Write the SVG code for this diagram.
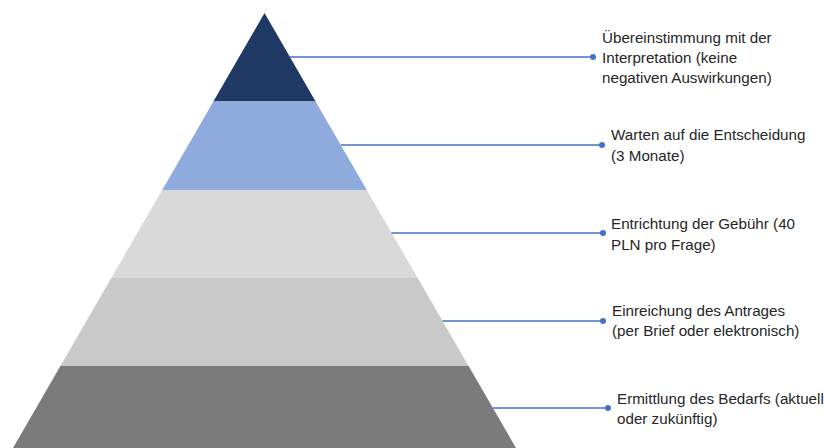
<svg xmlns="http://www.w3.org/2000/svg" width="824" height="448" viewBox="0 0 824 448">
<style>
.lbl{font-family:"Liberation Sans",Arial,sans-serif;font-size:15.2px;fill:#262626}
.con{stroke:#4472C4;stroke-width:1.3;fill:none}
.dot{fill:#4472C4}
</style>
<rect width="824" height="448" fill="#ffffff"/>
<g id="layer1"><polygon points="264.5,13 315.9,102 213.1,102" fill="#1F3864"/></g>
<g id="layer2"><polygon points="213.7,101 315.3,101 366.8,190 162.2,190" fill="#8FAADC"/></g>
<g id="layer3"><polygon points="162.2,190 366.8,190 417.7,278 111.3,278" fill="#D9D9D9"/></g>
<g id="layer4"><polygon points="111.3,278 417.7,278 468.6,366 60.4,366" fill="#C9C9C9"/></g>
<g id="layer5"><polygon points="60.4,366 468.6,366 516,448 13,448" fill="#7B7B7B"/></g>
<g id="connectors">
<line class="con" x1="290" y1="57" x2="593" y2="57"/><circle class="dot" cx="593" cy="57" r="3"/>
<line class="con" x1="341" y1="145" x2="602" y2="145"/><circle class="dot" cx="602" cy="145" r="3"/>
<line class="con" x1="391.5" y1="233" x2="603" y2="233"/><circle class="dot" cx="603" cy="233" r="3"/>
<line class="con" x1="442.5" y1="321" x2="603" y2="321"/><circle class="dot" cx="603" cy="321" r="3"/>
<line class="con" x1="493" y1="408" x2="608" y2="408"/><circle class="dot" cx="608" cy="408" r="3"/>
</g>
<g id="label1"><text class="lbl" x="602" y="43">Übereinstimmung mit der</text><text class="lbl" x="602" y="63">Interpretation (keine</text><text class="lbl" x="602" y="83">negativen Auswirkungen)</text></g>
<g id="label2"><text class="lbl" x="611" y="140">Warten auf die Entscheidung</text><text class="lbl" x="611" y="161">(3 Monate)</text></g>
<g id="label3"><text class="lbl" x="611" y="229">Entrichtung der Gebühr (40</text><text class="lbl" x="611" y="250">PLN pro Frage)</text></g>
<g id="label4"><text class="lbl" x="612" y="316">Einreichung des Antrages</text><text class="lbl" x="612" y="336">(per Brief oder elektronisch)</text></g>
<g id="label5"><text class="lbl" x="617" y="404">Ermittlung des Bedarfs (aktuell</text><text class="lbl" x="617" y="424">oder zukünftig)</text></g>
</svg>
